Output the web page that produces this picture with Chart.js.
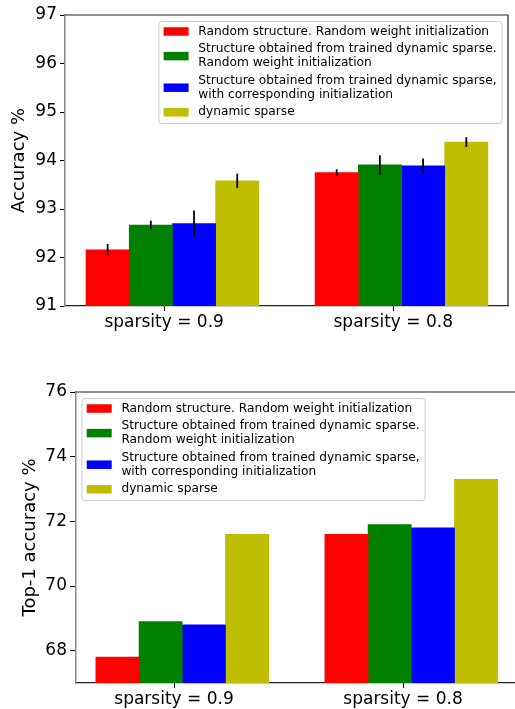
<!DOCTYPE html>
<html>
<head>
<meta charset="utf-8">
<script src="https://cdn.jsdelivr.net/npm/chart.js@4.4.0/dist/chart.umd.min.js"></script>
<style>
  html, body { margin: 0; padding: 0; background: #fff; overflow: hidden; }
  body { width: 515px; height: 709px; position: relative; }
  canvas { position: absolute; left: 0; }
  #topChart { top: 0; }
  #bottomChart { top: 360px; }
</style>
</head>
<body>
<canvas id="topChart" width="515" height="340"></canvas>
<canvas id="bottomChart" width="520" height="349"></canvas>
<script>
const categories = ["sparsity = 0.9", "sparsity = 0.8"];
const seriesNames = [
  "Random structure. Random weight initialization",
  "Structure obtained from trained dynamic sparse.\nRandom weight initialization",
  "Structure obtained from trained dynamic sparse,\nwith corresponding initialization",
  "dynamic sparse"
];
const seriesColors = ["#ff0000", "#008000", "#0000ff", "#bfbf00"];

// top chart: accuracy, with error bars
const accRandom = [92.16, 93.75];
const accRandomErr = [0.12, 0.07];
const accStructRandomInit = [92.67, 93.91];
const accStructRandomInitErr = [0.09, 0.2];
const accStructSameInit = [92.70, 93.89];
const accStructSameInitErr = [0.27, 0.15];
const accDynamic = [93.58, 94.38];
const accDynamicErr = [0.15, 0.1];
const accTicks = [91, 92, 93, 94, 95, 96, 97];

// bottom chart: top-1 accuracy
const top1Random = [67.8, 71.6];
const top1StructRandomInit = [68.9, 71.9];
const top1StructSameInit = [68.8, 71.8];
const top1Dynamic = [71.6, 73.3];
const top1Ticks = [68, 70, 72, 74, 76];

const family = "'DejaVu Sans', sans-serif";
const tickShift = -0.036; // x ticks sit a bit left of each bar group

function toPoints(values) {
  return values.map((v, i) => ({ x: i, y: v }));
}

function makeDatasets(seriesValues, seriesErrors) {
  return seriesValues.map((vals, i) => ({
    label: seriesNames[i],
    data: toPoints(vals),
    backgroundColor: seriesColors[i],
    borderWidth: 0,
    errors: seriesErrors ? seriesErrors[i] : null
  }));
}

const errorBars = {
  id: "errorBars",
  afterDatasetsDraw(chart) {
    const ctx = chart.ctx;
    const yScale = chart.scales.y;
    ctx.save();
    ctx.strokeStyle = "#000";
    ctx.lineWidth = 1.8;
    chart.data.datasets.forEach((ds, i) => {
      if (!ds.errors) return;
      chart.getDatasetMeta(i).data.forEach((bar, j) => {
        const v = ds.data[j].y;
        const e = ds.errors[j];
        ctx.beginPath();
        ctx.moveTo(bar.x, yScale.getPixelForValue(v + e));
        ctx.lineTo(bar.x, yScale.getPixelForValue(v - e));
        ctx.stroke();
      });
    });
    ctx.restore();
  }
};

const frame = {
  id: "frame",
  afterDraw(chart) {
    const { ctx, chartArea: a } = chart;
    ctx.save();
    ctx.strokeStyle = "#222";
    ctx.lineWidth = 1.2;
    ctx.beginPath();
    ctx.moveTo(a.left, a.top);
    ctx.lineTo(a.right, a.top);
    ctx.lineTo(a.right, a.bottom);
    ctx.stroke();
    ctx.restore();
  }
};

function roundRectPath(ctx, x, y, w, h, r) {
  ctx.beginPath();
  ctx.moveTo(x + r, y);
  ctx.arcTo(x + w, y, x + w, y + h, r);
  ctx.arcTo(x + w, y + h, x, y + h, r);
  ctx.arcTo(x, y + h, x, y, r);
  ctx.arcTo(x, y, x + w, y, r);
  ctx.closePath();
}

const boxLegend = {
  id: "boxLegend",
  afterDraw(chart, args, opts) {
    const { ctx, chartArea: area } = chart;
    const lineH = 14, itemGap = 17.6;
    ctx.save();
    ctx.font = "12.2px " + family;
    const items = chart.data.datasets.map(ds => ({ lines: ds.label.split("\n"), color: ds.backgroundColor }));
    let textW = 0;
    items.forEach(it => it.lines.forEach(l => { textW = Math.max(textW, ctx.measureText(l).width); }));
    const w = 39.4 + textW + 5.5;
    let h = 10 + 11.3 + (items.length - 1) * itemGap;
    items.forEach(it => { h += (it.lines.length - 1) * lineH; });
    const x0 = opts.align === "left" ? area.left + 6 : area.right - 6 - w;
    const y0 = area.top + 6.5;

    roundRectPath(ctx, x0, y0, w, h, 3);
    ctx.fillStyle = "rgba(255,255,255,0.8)";
    ctx.fill();
    ctx.strokeStyle = "#cccccc";
    ctx.lineWidth = 1;
    ctx.stroke();

    let y = y0 + 10;
    ctx.textBaseline = "middle";
    ctx.textAlign = "left";
    items.forEach(it => {
      const n = it.lines.length;
      const mid = y + (n - 1) * lineH / 2;
      ctx.fillStyle = it.color;
      ctx.fillRect(x0 + 4.7, mid - 4.25, 25, 8.5);
      ctx.fillStyle = "#000";
      it.lines.forEach((l, k) => ctx.fillText(l, x0 + 39.4, y + k * lineH));
      y += (n - 1) * lineH + itemGap;
    });
    ctx.restore();
  }
};

function makeChart(canvasId, datasets, cfg) {
  return new Chart(document.getElementById(canvasId), {
    type: "bar",
    data: { datasets },
    options: {
      responsive: false,
      animation: false,
      layout: { padding: cfg.padding },
      datasets: { bar: { barThickness: 43.2 } },
      plugins: {
        legend: { display: false },
        tooltip: { enabled: false },
        boxLegend: { align: cfg.legendAlign }
      },
      scales: {
        x: {
          type: "linear",
          min: cfg.xMin,
          max: cfg.xMax,
          bounds: "data",
          offset: false,
          afterBuildTicks: (s) => { s.ticks = categories.map((c, i) => ({ value: i + tickShift })); },
          afterFit: (s) => { s.height = cfg.xHeight; },
          ticks: {
            callback: (v, i) => categories[i],
            font: { family, size: 17 },
            color: "#000",
            padding: 1,
            maxRotation: 0,
            autoSkip: false
          },
          grid: { offset: false, drawOnChartArea: false, tickLength: 5, color: "#000" },
          border: { color: "#222", width: 1.2 }
        },
        y: {
          min: cfg.yMin,
          max: cfg.yMax,
          afterBuildTicks: (s) => { s.ticks = cfg.yTicks.map(v => ({ value: v })); },
          afterFit: (s) => { s.width = cfg.yWidth; },
          ticks: { font: { family, size: 17 }, color: "#000", padding: 3 },
          grid: { drawOnChartArea: false, tickLength: cfg.yTickLen, color: "#000" },
          border: { color: "#888", width: 1.5 },
          title: {
            display: true,
            text: cfg.yTitle,
            font: { family, size: 18 },
            color: "#000",
            padding: { top: cfg.titlePad, bottom: 0 }
          }
        }
      }
    },
    plugins: [errorBars, frame, boxLegend]
  });
}

makeChart("topChart",
  makeDatasets([accRandom, accStructRandomInit, accStructSameInit, accDynamic],
               [accRandomErr, accStructRandomInitErr, accStructSameInitErr, accDynamicErr]),
  {
    padding: { top: 15, right: 7, bottom: 0, left: 0 },
    xMin: -0.469, xMax: 1.465, xHeight: 34,
    yMin: 91, yMax: 97, yTicks: accTicks, yWidth: 65, yTickLen: 5,
    yTitle: "Accuracy %", titlePad: 8.2,
    legendAlign: "right"
  });

makeChart("bottomChart",
  makeDatasets([top1Random, top1StructRandomInit, top1StructSameInit, top1Dynamic], null),
  {
    padding: { top: 32, right: 2, bottom: 0, left: 0 },
    xMin: -0.464, xMax: 1.466, xHeight: 26,
    yMin: 67, yMax: 76, yTicks: top1Ticks, yWidth: 76, yTickLen: 6,
    yTitle: "Top-1 accuracy %", titlePad: 19.2,
    legendAlign: "left"
  });
</script>
</body>
</html>
